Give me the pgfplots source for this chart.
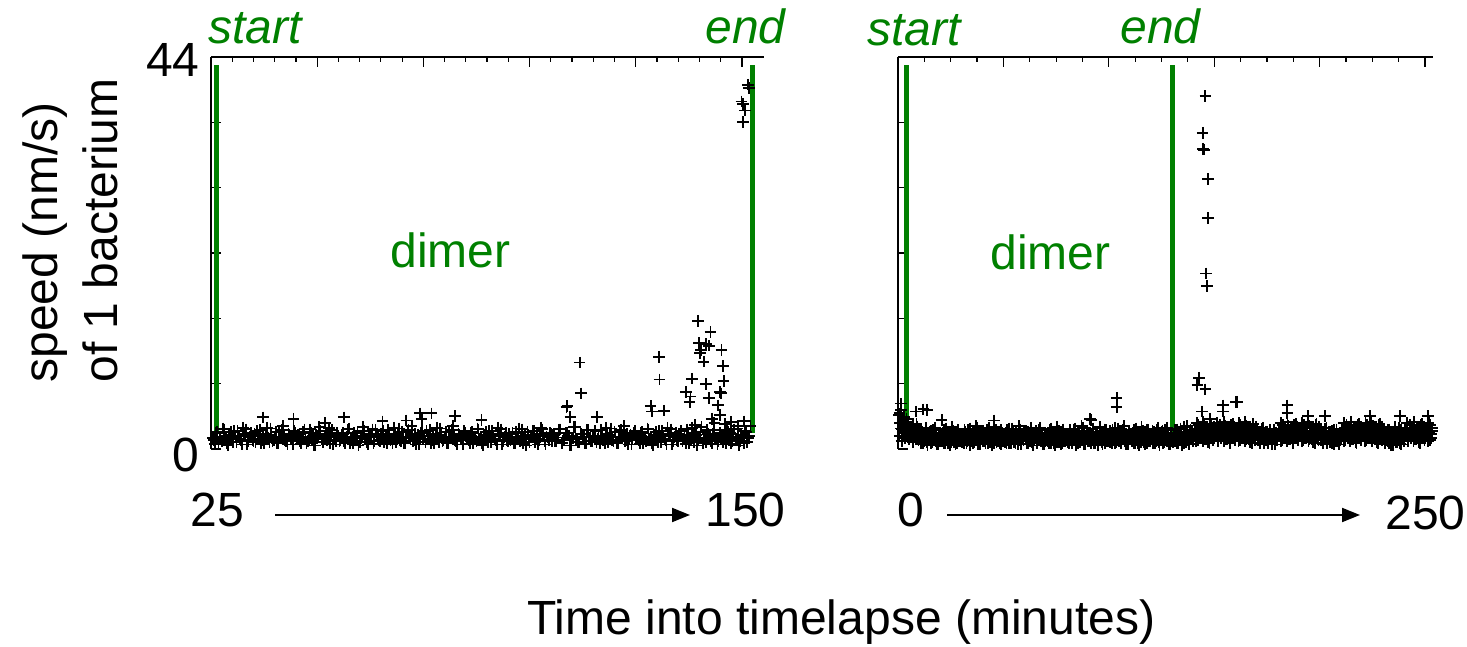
\documentclass[border=0pt]{standalone}
\usepackage{fontspec}
\setmainfont{Liberation Sans}
\usepackage{pgfplots}
\pgfplotsset{compat=1.18}
\usetikzlibrary{arrows.meta}
\definecolor{dgreen}{RGB}{0,128,0}
\pgfplotsset{
  panel/.style={
    scale only axis, height=196pt,
    axis x line*=top, axis y line*=left,
    axis line style={-, line width=1pt},
    tick align=inside,
    major tick length=5pt, minor tick length=2.5pt,
    tick style={black, line width=0.6pt},
    ymin=0, ymax=44,
    ytick={0,7.3333,14.6667,22,29.3333,36.6667,44},
    minor y tick num=3,
    xticklabels={}, yticklabels={},
    clip=false,
  },
  dots/.style={only marks, mark=+, mark size=2.9pt, line width=0.9pt, black},
  gline/.style={dgreen, line width=2.5pt, no marks},
}
\newcommand\bigfont{\fontsize{24}{28}\selectfont}
\begin{document}
\begin{tikzpicture}
\useasboundingbox (0,0) rectangle (733.5pt,323.5pt);
% ---------- left panel ----------
\begin{axis}[panel, at={(105.5pt,99pt)}, anchor=south west, width=276.5pt,
  xmin=25, xmax=155.2, xtick={25,50,...,150}, minor x tick num=4]
\addplot[dots] coordinates {
(25.5,1.2)(26,0.6)(26.5,1.9)(27,1.4)(27.5,0.9)(28,2.2)(28.5,1.1)(29,0.4)(29.5,1.6)(30,1.3)(30.5,2.0)(31,0.8)(31.5,1.5)(32,1.0)(32.5,2.4)(33,1.7)(33.5,0.5)(34,1.3)(34.5,1.8)(35,0.9)
(35.5,0.8)(36,1.5)(36.5,2.1)(37,1.0)(37.5,0.6)(38,1.7)(38.5,1.3)(39,2.3)(39.5,0.9)(40,1.4)(40.5,0.7)(41,1.9)(41.5,1.2)(42,2.6)(42.5,1.0)(43,0.5)(43.5,1.6)(44,1.1)(44.5,2.0)(45,1.4)
(45.5,1.6)(46,0.9)(46.5,1.3)(47,2.2)(47.5,0.7)(48,1.0)(48.5,1.8)(49,1.5)(49.5,0.4)(50,1.2)(50.5,2.5)(51,1.1)(51.5,0.8)(52,1.7)(52.5,1.4)(53,0.6)(53.5,2.1)(54,1.3)(54.5,0.9)(55,1.5)
(55.5,1.0)(56,1.8)(56.5,0.7)(57,1.4)(57.5,2.3)(58,1.2)(58.5,0.6)(59,1.5)(59.5,1.9)(60,0.8)(60.5,1.3)(61,2.0)(61.5,1.1)(62,0.5)(62.5,1.6)(63,2.2)(63.5,0.9)(64,1.4)(64.5,1.0)(65,1.7)
(65.5,2.0)(66,1.1)(66.5,0.6)(67,1.5)(67.5,1.2)(68,2.4)(68.5,0.8)(69,1.6)(69.5,1.0)(70,1.9)(70.5,0.7)(71,1.3)(71.5,2.1)(72,1.4)(72.5,0.9)(73,1.7)(73.5,1.2)(74,0.5)(74.5,1.8)(75,1.1)
(75.5,0.8)(76,1.5)(76.5,2.1)(77,1.0)(77.5,0.6)(78,1.7)(78.5,1.3)(79,2.3)(79.5,0.9)(80,1.4)(80.5,0.7)(81,1.9)(81.5,1.2)(82,2.6)(82.5,1.0)(83,0.5)(83.5,1.6)(84,1.1)(84.5,2.0)(85,1.4)
(85.5,1.2)(86,0.6)(86.5,1.9)(87,1.4)(87.5,0.9)(88,2.2)(88.5,1.1)(89,0.4)(89.5,1.6)(90,1.3)(90.5,2.0)(91,0.8)(91.5,1.5)(92,1.0)(92.5,2.4)(93,1.7)(93.5,0.5)(94,1.3)(94.5,1.8)(95,0.9)
(95.5,1.0)(96,1.8)(96.5,0.7)(97,1.4)(97.5,2.3)(98,1.2)(98.5,0.6)(99,1.5)(99.5,1.9)(100,0.8)(100.5,1.3)(101,2.0)(101.5,1.1)(102,0.5)(102.5,1.6)(103,2.2)(103.5,0.9)(104,1.4)(104.5,1.0)(105,1.7)
(105.5,1.6)(106,0.9)(106.5,1.3)(107,2.2)(107.5,0.7)(108,1.0)(108.5,1.8)(109,1.5)(109.5,0.4)(110,1.2)(110.5,2.5)(111,1.1)(111.5,0.8)(112,1.7)(112.5,1.4)(113,0.6)(113.5,2.1)(114,1.3)(114.5,0.9)(115,1.5)
(115.5,2.0)(116,1.1)(116.5,0.6)(117,1.5)(117.5,1.2)(118,2.4)(118.5,0.8)(119,1.6)(119.5,1.0)(120,1.9)(120.5,0.7)(121,1.3)(121.5,2.1)(122,1.4)(122.5,0.9)(123,1.7)(123.5,1.2)(124,0.5)(124.5,1.8)(125,1.1)
(125.5,1.2)(126,0.6)(126.5,1.9)(127,1.4)(127.5,0.9)(128,2.2)(128.5,1.1)(129,0.4)(129.5,1.6)(130,1.3)(130.5,2.0)(131,0.8)(131.5,1.5)(132,1.0)(132.5,2.4)(133,1.7)(133.5,0.5)(134,1.3)(134.5,1.8)(135,0.9)
(135.5,1.6)(136,0.9)(136.5,1.3)(137,2.2)(137.5,0.7)(138,1.0)(138.5,1.8)(139,1.5)(139.5,0.4)(140,1.2)(140.5,2.5)(141,1.1)(141.5,0.8)(142,1.7)(142.5,1.4)(143,0.6)(143.5,2.1)(144,1.3)(144.5,0.9)(145,1.5)
(145.5,0.8)(146,1.5)(146.5,2.1)(147,1.0)(147.5,0.6)(148,1.7)(148.5,1.3)(149,2.3)(149.5,0.9)(150,1.4)(150.5,0.7)(151,1.9)(151.5,1.2)(152,2.6)
};
\addplot[dots] coordinates {
(25.75,1.0)(26.25,1.8)(26.75,0.7)(27.25,1.4)(27.75,2.3)(28.25,1.2)(28.75,0.6)(29.25,1.5)(29.75,1.9)(30.25,0.8)(30.75,1.3)(31.25,2.0)(31.75,1.1)(32.25,0.5)(32.75,1.6)(33.25,2.2)(33.75,0.9)(34.25,1.4)(34.75,1.0)(35.25,1.7)
(35.75,2.0)(36.25,1.1)(36.75,0.6)(37.25,1.5)(37.75,1.2)(38.25,2.4)(38.75,0.8)(39.25,1.6)(39.75,1.0)(40.25,1.9)(40.75,0.7)(41.25,1.3)(41.75,2.1)(42.25,1.4)(42.75,0.9)(43.25,1.7)(43.75,1.2)(44.25,0.5)(44.75,1.8)(45.25,1.1)
(45.75,1.2)(46.25,0.6)(46.75,1.9)(47.25,1.4)(47.75,0.9)(48.25,2.2)(48.75,1.1)(49.25,0.4)(49.75,1.6)(50.25,1.3)(50.75,2.0)(51.25,0.8)(51.75,1.5)(52.25,1.0)(52.75,2.4)(53.25,1.7)(53.75,0.5)(54.25,1.3)(54.75,1.8)(55.25,0.9)
(55.75,1.6)(56.25,0.9)(56.75,1.3)(57.25,2.2)(57.75,0.7)(58.25,1.0)(58.75,1.8)(59.25,1.5)(59.75,0.4)(60.25,1.2)(60.75,2.5)(61.25,1.1)(61.75,0.8)(62.25,1.7)(62.75,1.4)(63.25,0.6)(63.75,2.1)(64.25,1.3)(64.75,0.9)(65.25,1.5)
(65.75,0.8)(66.25,1.5)(66.75,2.1)(67.25,1.0)(67.75,0.6)(68.25,1.7)(68.75,1.3)(69.25,2.3)(69.75,0.9)(70.25,1.4)(70.75,0.7)(71.25,1.9)(71.75,1.2)(72.25,2.6)(72.75,1.0)(73.25,0.5)(73.75,1.6)(74.25,1.1)(74.75,2.0)(75.25,1.4)
(75.75,2.0)(76.25,1.1)(76.75,0.6)(77.25,1.5)(77.75,1.2)(78.25,2.4)(78.75,0.8)(79.25,1.6)(79.75,1.0)(80.25,1.9)(80.75,0.7)(81.25,1.3)(81.75,2.1)(82.25,1.4)(82.75,0.9)(83.25,1.7)(83.75,1.2)(84.25,0.5)(84.75,1.8)(85.25,1.1)
(85.75,1.0)(86.25,1.8)(86.75,0.7)(87.25,1.4)(87.75,2.3)(88.25,1.2)(88.75,0.6)(89.25,1.5)(89.75,1.9)(90.25,0.8)(90.75,1.3)(91.25,2.0)(91.75,1.1)(92.25,0.5)(92.75,1.6)(93.25,2.2)(93.75,0.9)(94.25,1.4)(94.75,1.0)(95.25,1.7)
(95.75,1.2)(96.25,0.6)(96.75,1.9)(97.25,1.4)(97.75,0.9)(98.25,2.2)(98.75,1.1)(99.25,0.4)(99.75,1.6)(100.25,1.3)(100.75,2.0)(101.25,0.8)(101.75,1.5)(102.25,1.0)(102.75,2.4)(103.25,1.7)(103.75,0.5)(104.25,1.3)(104.75,1.8)(105.25,0.9)
(105.75,1.6)(106.25,0.9)(106.75,1.3)(107.25,2.2)(107.75,0.7)(108.25,1.0)(108.75,1.8)(109.25,1.5)(109.75,0.4)(110.25,1.2)(110.75,2.5)(111.25,1.1)(111.75,0.8)(112.25,1.7)(112.75,1.4)(113.25,0.6)(113.75,2.1)(114.25,1.3)(114.75,0.9)(115.25,1.5)
(115.75,0.8)(116.25,1.5)(116.75,2.1)(117.25,1.0)(117.75,0.6)(118.25,1.7)(118.75,1.3)(119.25,2.3)(119.75,0.9)(120.25,1.4)(120.75,0.7)(121.25,1.9)(121.75,1.2)(122.25,2.6)(122.75,1.0)(123.25,0.5)(123.75,1.6)(124.25,1.1)(124.75,2.0)(125.25,1.4)
(125.75,1.0)(126.25,1.8)(126.75,0.7)(127.25,1.4)(127.75,2.3)(128.25,1.2)(128.75,0.6)(129.25,1.5)(129.75,1.9)(130.25,0.8)(130.75,1.3)(131.25,2.0)(131.75,1.1)(132.25,0.5)(132.75,1.6)(133.25,2.2)(133.75,0.9)(134.25,1.4)(134.75,1.0)(135.25,1.7)
(135.75,2.0)(136.25,1.1)(136.75,0.6)(137.25,1.5)(137.75,1.2)(138.25,2.4)(138.75,0.8)(139.25,1.6)(139.75,1.0)(140.25,1.9)(140.75,0.7)(141.25,1.3)(141.75,2.1)(142.25,1.4)(142.75,0.9)(143.25,1.7)(143.75,1.2)(144.25,0.5)(144.75,1.8)(145.25,1.1)
(145.75,1.2)(146.25,0.6)(146.75,1.9)(147.25,1.4)(147.75,0.9)(148.25,2.2)(148.75,1.1)(149.25,0.4)(149.75,1.6)(150.25,1.3)(150.75,2.0)(151.25,0.8)(151.75,1.5)
};
\addplot[dots] coordinates {
(37.3,3.55)(44.4,3.4)(51.8,2.9)(56.3,3.55)(65.4,3.1)(71,3.2)(74.2,4.0)(76.9,4.0)(74.6,3.4)(82.4,3.7)(88.7,3.25)
(111.8,9.7)(112.1,6.25)(108.7,4.7)(108.9,4.8)(109.6,3.6)(115.9,3.6)
(130.5,10.3)(130.6,7.8)(128.5,4.8)(128.8,4.2)(131.6,4.3)
(139.7,14.4)(142.6,13.1)(139.9,11.9)(141.6,11.8)(142.2,11.6)(140.4,11.1)(140.1,10.8)(145.2,11.1)(141.0,9.8)(145.5,9.3)(138.2,7.9)(141.5,7.3)(145.7,7.6)(136.9,6.4)(137.9,5.9)(137.7,5.3)(142.2,5.7)(144.8,6.4)(145.1,6.25)(144.3,4.9)(144.8,3.8)(142.9,3.4)
(146.0,2.8)(147.5,3.0)(149.0,2.6)(150.5,3.1)(148.2,2.2)(143.5,2.9)(139.0,2.7)
(151.4,40.9)(151.6,40.5)(149.9,39.0)(150.3,38.7)(150.7,38.0)(150.3,36.7)
};
\addplot[gline] coordinates {(26.3,1.8) (26.3,43.1)};
\addplot[gline] coordinates {(152.4,1.8) (152.4,43.1)};
\end{axis}
% ---------- right panel ----------
\begin{axis}[panel, at={(449pt,99pt)}, anchor=south west, width=267.5pt,
  xmin=0, xmax=253.8, xtick={0,50,...,250}, minor x tick num=3]
\addplot[dots] coordinates {
(0.5,3.8)(1,2.9)(1.5,4.4)(2,2.2)(2.5,3.1)(3,2.6)(3.5,1.8)(4,3.4)(4.5,2.0)(5,2.7)(5.5,1.5)(6,2.4)(6.5,1.9)(7,2.8)(7.5,1.3)(8,2.1)(8.5,1.6)(9,2.5)(9.5,1.2)(10,2.0)
(10.5,1.2)(11,0.6)(11.5,1.9)(12,1.4)(12.5,0.9)(13,2.2)(13.5,1.1)(14,0.4)(14.5,1.6)(15,1.3)(15.5,2.0)(16,0.8)(16.5,1.5)(17,1.0)(17.5,2.4)(18,1.7)(18.5,0.5)(19,1.3)(19.5,1.8)(20,0.9)
(20.5,1.6)(21,0.9)(21.5,1.3)(22,2.2)(22.5,0.7)(23,1.0)(23.5,1.8)(24,1.5)(24.5,0.4)(25,1.2)(25.5,2.5)(26,1.1)(26.5,0.8)(27,1.7)(27.5,1.4)(28,0.6)(28.5,2.1)(29,1.3)(29.5,0.9)(30,1.5)
(30.5,0.8)(31,1.5)(31.5,2.1)(32,1.0)(32.5,0.6)(33,1.7)(33.5,1.3)(34,2.3)(34.5,0.9)(35,1.4)(35.5,0.7)(36,1.9)(36.5,1.2)(37,2.6)(37.5,1.0)(38,0.5)(38.5,1.6)(39,1.1)(39.5,2.0)(40,1.4)
(40.5,2.0)(41,1.1)(41.5,0.6)(42,1.5)(42.5,1.2)(43,2.4)(43.5,0.8)(44,1.6)(44.5,1.0)(45,1.9)(45.5,0.7)(46,1.3)(46.5,2.1)(47,1.4)(47.5,0.9)(48,1.7)(48.5,1.2)(49,0.5)(49.5,1.8)(50,1.1)
(50.5,1.0)(51,1.8)(51.5,0.7)(52,1.4)(52.5,2.3)(53,1.2)(53.5,0.6)(54,1.5)(54.5,1.9)(55,0.8)(55.5,1.3)(56,2.0)(56.5,1.1)(57,0.5)(57.5,1.6)(58,2.2)(58.5,0.9)(59,1.4)(59.5,1.0)(60,1.7)
(60.5,1.2)(61,0.6)(61.5,1.9)(62,1.4)(62.5,0.9)(63,2.2)(63.5,1.1)(64,0.4)(64.5,1.6)(65,1.3)(65.5,2.0)(66,0.8)(66.5,1.5)(67,1.0)(67.5,2.4)(68,1.7)(68.5,0.5)(69,1.3)(69.5,1.8)(70,0.9)
(70.5,1.6)(71,0.9)(71.5,1.3)(72,2.2)(72.5,0.7)(73,1.0)(73.5,1.8)(74,1.5)(74.5,0.4)(75,1.2)(75.5,2.5)(76,1.1)(76.5,0.8)(77,1.7)(77.5,1.4)(78,0.6)(78.5,2.1)(79,1.3)(79.5,0.9)(80,1.5)
(80.5,0.8)(81,1.5)(81.5,2.1)(82,1.0)(82.5,0.6)(83,1.7)(83.5,1.3)(84,2.3)(84.5,0.9)(85,1.4)(85.5,0.7)(86,1.9)(86.5,1.2)(87,2.6)(87.5,1.0)(88,0.5)(88.5,1.6)(89,1.1)(89.5,2.0)(90,1.4)
(90.5,1.0)(91,1.8)(91.5,0.7)(92,1.4)(92.5,2.3)(93,1.2)(93.5,0.6)(94,1.5)(94.5,1.9)(95,0.8)(95.5,1.3)(96,2.0)(96.5,1.1)(97,0.5)(97.5,1.6)(98,2.2)(98.5,0.9)(99,1.4)(99.5,1.0)(100,1.7)
(100.5,2.0)(101,1.1)(101.5,0.6)(102,1.5)(102.5,1.2)(103,2.4)(103.5,0.8)(104,1.6)(104.5,1.0)(105,1.9)(105.5,0.7)(106,1.3)(106.5,2.1)(107,1.4)(107.5,0.9)(108,1.7)(108.5,1.2)(109,0.5)(109.5,1.8)(110,1.1)
(110.5,1.6)(111,0.9)(111.5,1.3)(112,2.2)(112.5,0.7)(113,1.0)(113.5,1.8)(114,1.5)(114.5,0.4)(115,1.2)(115.5,2.5)(116,1.1)(116.5,0.8)(117,1.7)(117.5,1.4)(118,0.6)(118.5,2.1)(119,1.3)(119.5,0.9)(120,1.5)
(120.5,1.2)(121,0.6)(121.5,1.9)(122,1.4)(122.5,0.9)(123,2.2)(123.5,1.1)(124,0.4)(124.5,1.6)(125,1.3)(125.5,2.0)(126,0.8)(126.5,1.5)(127,1.0)(127.5,2.4)(128,1.7)(128.5,0.5)(129,1.3)(129.5,1.8)(130,0.9)
(130.5,0.8)(131,1.5)(131.5,2.1)(132,1.0)(132.5,0.6)(133,1.7)(133.5,1.3)(134,2.3)(134.5,0.9)(135,1.4)(135.5,0.7)(136,1.9)(136.5,1.2)(137,2.6)(137.5,1.0)(138,0.5)(138.5,1.6)(139,1.1)(139.5,2.0)(140,1.4)
(140.5,1.5)(141,2.3)(141.5,0.9)(142,1.8)(142.5,2.7)(143,1.2)(143.5,2.0)(144,1.6)(144.5,3.0)(145,1.1)(145.5,1.9)(146,2.5)(146.5,1.3)(147,0.8)(147.5,2.2)(148,1.7)(148.5,2.8)(149,1.4)(149.5,1.0)(150,2.1)
(150.5,2.2)(151,1.4)(151.5,2.9)(152,1.0)(152.5,1.7)(153,2.4)(153.5,1.2)(154,2.0)(154.5,0.9)(155,2.6)(155.5,1.5)(156,1.1)(156.5,2.3)(157,1.8)(157.5,0.7)(158,2.7)(158.5,1.3)(159,1.9)(159.5,2.5)(160,1.6)
(160.5,1.5)(161,2.3)(161.5,0.9)(162,1.8)(162.5,2.7)(163,1.2)(163.5,2.0)(164,1.6)(164.5,3.0)(165,1.1)(165.5,1.9)(166,2.5)(166.5,1.3)(167,0.8)(167.5,2.2)(168,1.7)(168.5,2.8)(169,1.4)(169.5,1.0)(170,2.1)
(170.5,2.0)(171,1.1)(171.5,0.6)(172,1.5)(172.5,1.2)(173,2.4)(173.5,0.8)(174,1.6)(174.5,1.0)(175,1.9)(175.5,0.7)(176,1.3)(176.5,2.1)(177,1.4)(177.5,0.9)(178,1.7)(178.5,1.2)(179,0.5)(179.5,1.8)(180,1.1)
(180.5,2.2)(181,1.4)(181.5,2.9)(182,1.0)(182.5,1.7)(183,2.4)(183.5,1.2)(184,2.0)(184.5,0.9)(185,2.6)(185.5,1.5)(186,1.1)(186.5,2.3)(187,1.8)(187.5,0.7)(188,2.7)(188.5,1.3)(189,1.9)(189.5,2.5)(190,1.6)
(190.5,1.5)(191,2.3)(191.5,0.9)(192,1.8)(192.5,2.7)(193,1.2)(193.5,2.0)(194,1.6)(194.5,3.0)(195,1.1)(195.5,1.9)(196,2.5)(196.5,1.3)(197,0.8)(197.5,2.2)(198,1.7)(198.5,2.8)(199,1.4)(199.5,1.0)(200,2.1)
(200.5,1.0)(201,1.8)(201.5,0.7)(202,1.4)(202.5,2.3)(203,1.2)(203.5,0.6)(204,1.5)(204.5,1.9)(205,0.8)(205.5,1.3)(206,2.0)(206.5,1.1)(207,0.5)(207.5,1.6)(208,2.2)(208.5,0.9)(209,1.4)(209.5,1.0)(210,1.7)
(210.5,2.2)(211,1.4)(211.5,2.9)(212,1.0)(212.5,1.7)(213,2.4)(213.5,1.2)(214,2.0)(214.5,0.9)(215,2.6)(215.5,1.5)(216,1.1)(216.5,2.3)(217,1.8)(217.5,0.7)(218,2.7)(218.5,1.3)(219,1.9)(219.5,2.5)(220,1.6)
(220.5,1.5)(221,2.3)(221.5,0.9)(222,1.8)(222.5,2.7)(223,1.2)(223.5,2.0)(224,1.6)(224.5,3.0)(225,1.1)(225.5,1.9)(226,2.5)(226.5,1.3)(227,0.8)(227.5,2.2)(228,1.7)(228.5,2.8)(229,1.4)(229.5,1.0)(230,2.1)
(230.5,1.2)(231,0.6)(231.5,1.9)(232,1.4)(232.5,0.9)(233,2.2)(233.5,1.1)(234,0.4)(234.5,1.6)(235,1.3)(235.5,2.0)(236,0.8)(236.5,1.5)(237,1.0)(237.5,2.4)(238,1.7)(238.5,0.5)(239,1.3)(239.5,1.8)(240,0.9)
(240.5,2.2)(241,1.4)(241.5,2.9)(242,1.0)(242.5,1.7)(243,2.4)(243.5,1.2)(244,2.0)(244.5,0.9)(245,2.6)(245.5,1.5)(246,1.1)(246.5,2.3)(247,1.8)(247.5,0.7)(248,2.7)(248.5,1.3)(249,1.9)(249.5,2.5)(250,1.6)
(250.5,1.5)(251,2.3)(251.5,0.9)(252,1.8)(252.5,2.7)(253,1.2)(253.5,2.0)
};
\addplot[dots] coordinates {
(0.75,1.5)(1.25,2.3)(1.75,0.9)(2.25,1.8)(2.75,2.7)(3.25,1.2)(3.75,2.0)(4.25,1.6)(4.75,3.0)(5.25,1.1)(5.75,1.9)(6.25,2.5)(6.75,1.3)(7.25,0.8)(7.75,2.2)(8.25,1.7)(8.75,2.8)(9.25,1.4)(9.75,1.0)(10.25,2.1)
(10.75,2.0)(11.25,1.1)(11.75,0.6)(12.25,1.5)(12.75,1.2)(13.25,2.4)(13.75,0.8)(14.25,1.6)(14.75,1.0)(15.25,1.9)(15.75,0.7)(16.25,1.3)(16.75,2.1)(17.25,1.4)(17.75,0.9)(18.25,1.7)(18.75,1.2)(19.25,0.5)(19.75,1.8)(20.25,1.1)
(20.75,1.0)(21.25,1.8)(21.75,0.7)(22.25,1.4)(22.75,2.3)(23.25,1.2)(23.75,0.6)(24.25,1.5)(24.75,1.9)(25.25,0.8)(25.75,1.3)(26.25,2.0)(26.75,1.1)(27.25,0.5)(27.75,1.6)(28.25,2.2)(28.75,0.9)(29.25,1.4)(29.75,1.0)(30.25,1.7)
(30.75,1.2)(31.25,0.6)(31.75,1.9)(32.25,1.4)(32.75,0.9)(33.25,2.2)(33.75,1.1)(34.25,0.4)(34.75,1.6)(35.25,1.3)(35.75,2.0)(36.25,0.8)(36.75,1.5)(37.25,1.0)(37.75,2.4)(38.25,1.7)(38.75,0.5)(39.25,1.3)(39.75,1.8)(40.25,0.9)
(40.75,1.6)(41.25,0.9)(41.75,1.3)(42.25,2.2)(42.75,0.7)(43.25,1.0)(43.75,1.8)(44.25,1.5)(44.75,0.4)(45.25,1.2)(45.75,2.5)(46.25,1.1)(46.75,0.8)(47.25,1.7)(47.75,1.4)(48.25,0.6)(48.75,2.1)(49.25,1.3)(49.75,0.9)(50.25,1.5)
(50.75,0.8)(51.25,1.5)(51.75,2.1)(52.25,1.0)(52.75,0.6)(53.25,1.7)(53.75,1.3)(54.25,2.3)(54.75,0.9)(55.25,1.4)(55.75,0.7)(56.25,1.9)(56.75,1.2)(57.25,2.6)(57.75,1.0)(58.25,0.5)(58.75,1.6)(59.25,1.1)(59.75,2.0)(60.25,1.4)
(60.75,2.0)(61.25,1.1)(61.75,0.6)(62.25,1.5)(62.75,1.2)(63.25,2.4)(63.75,0.8)(64.25,1.6)(64.75,1.0)(65.25,1.9)(65.75,0.7)(66.25,1.3)(66.75,2.1)(67.25,1.4)(67.75,0.9)(68.25,1.7)(68.75,1.2)(69.25,0.5)(69.75,1.8)(70.25,1.1)
(70.75,1.0)(71.25,1.8)(71.75,0.7)(72.25,1.4)(72.75,2.3)(73.25,1.2)(73.75,0.6)(74.25,1.5)(74.75,1.9)(75.25,0.8)(75.75,1.3)(76.25,2.0)(76.75,1.1)(77.25,0.5)(77.75,1.6)(78.25,2.2)(78.75,0.9)(79.25,1.4)(79.75,1.0)(80.25,1.7)
(80.75,1.2)(81.25,0.6)(81.75,1.9)(82.25,1.4)(82.75,0.9)(83.25,2.2)(83.75,1.1)(84.25,0.4)(84.75,1.6)(85.25,1.3)(85.75,2.0)(86.25,0.8)(86.75,1.5)(87.25,1.0)(87.75,2.4)(88.25,1.7)(88.75,0.5)(89.25,1.3)(89.75,1.8)(90.25,0.9)
(90.75,1.6)(91.25,0.9)(91.75,1.3)(92.25,2.2)(92.75,0.7)(93.25,1.0)(93.75,1.8)(94.25,1.5)(94.75,0.4)(95.25,1.2)(95.75,2.5)(96.25,1.1)(96.75,0.8)(97.25,1.7)(97.75,1.4)(98.25,0.6)(98.75,2.1)(99.25,1.3)(99.75,0.9)(100.25,1.5)
(100.75,0.8)(101.25,1.5)(101.75,2.1)(102.25,1.0)(102.75,0.6)(103.25,1.7)(103.75,1.3)(104.25,2.3)(104.75,0.9)(105.25,1.4)(105.75,0.7)(106.25,1.9)(106.75,1.2)(107.25,2.6)(107.75,1.0)(108.25,0.5)(108.75,1.6)(109.25,1.1)(109.75,2.0)(110.25,1.4)
(110.75,1.0)(111.25,1.8)(111.75,0.7)(112.25,1.4)(112.75,2.3)(113.25,1.2)(113.75,0.6)(114.25,1.5)(114.75,1.9)(115.25,0.8)(115.75,1.3)(116.25,2.0)(116.75,1.1)(117.25,0.5)(117.75,1.6)(118.25,2.2)(118.75,0.9)(119.25,1.4)(119.75,1.0)(120.25,1.7)
(120.75,2.0)(121.25,1.1)(121.75,0.6)(122.25,1.5)(122.75,1.2)(123.25,2.4)(123.75,0.8)(124.25,1.6)(124.75,1.0)(125.25,1.9)(125.75,0.7)(126.25,1.3)(126.75,2.1)(127.25,1.4)(127.75,0.9)(128.25,1.7)(128.75,1.2)(129.25,0.5)(129.75,1.8)(130.25,1.1)
(130.75,1.6)(131.25,0.9)(131.75,1.3)(132.25,2.2)(132.75,0.7)(133.25,1.0)(133.75,1.8)(134.25,1.5)(134.75,0.4)(135.25,1.2)(135.75,2.5)(136.25,1.1)(136.75,0.8)(137.25,1.7)(137.75,1.4)(138.25,0.6)(138.75,2.1)(139.25,1.3)(139.75,0.9)(140.25,1.5)
(140.75,2.2)(141.25,1.4)(141.75,2.9)(142.25,1.0)(142.75,1.7)(143.25,2.4)(143.75,1.2)(144.25,2.0)(144.75,0.9)(145.25,2.6)(145.75,1.5)(146.25,1.1)(146.75,2.3)(147.25,1.8)(147.75,0.7)(148.25,2.7)(148.75,1.3)(149.25,1.9)(149.75,2.5)(150.25,1.6)
(150.75,1.5)(151.25,2.3)(151.75,0.9)(152.25,1.8)(152.75,2.7)(153.25,1.2)(153.75,2.0)(154.25,1.6)(154.75,3.0)(155.25,1.1)(155.75,1.9)(156.25,2.5)(156.75,1.3)(157.25,0.8)(157.75,2.2)(158.25,1.7)(158.75,2.8)(159.25,1.4)(159.75,1.0)(160.25,2.1)
(160.75,2.2)(161.25,1.4)(161.75,2.9)(162.25,1.0)(162.75,1.7)(163.25,2.4)(163.75,1.2)(164.25,2.0)(164.75,0.9)(165.25,2.6)(165.75,1.5)(166.25,1.1)(166.75,2.3)(167.25,1.8)(167.75,0.7)(168.25,2.7)(168.75,1.3)(169.25,1.9)(169.75,2.5)(170.25,1.6)
(170.75,1.0)(171.25,1.8)(171.75,0.7)(172.25,1.4)(172.75,2.3)(173.25,1.2)(173.75,0.6)(174.25,1.5)(174.75,1.9)(175.25,0.8)(175.75,1.3)(176.25,2.0)(176.75,1.1)(177.25,0.5)(177.75,1.6)(178.25,2.2)(178.75,0.9)(179.25,1.4)(179.75,1.0)(180.25,1.7)
(180.75,1.5)(181.25,2.3)(181.75,0.9)(182.25,1.8)(182.75,2.7)(183.25,1.2)(183.75,2.0)(184.25,1.6)(184.75,3.0)(185.25,1.1)(185.75,1.9)(186.25,2.5)(186.75,1.3)(187.25,0.8)(187.75,2.2)(188.25,1.7)(188.75,2.8)(189.25,1.4)(189.75,1.0)(190.25,2.1)
(190.75,2.2)(191.25,1.4)(191.75,2.9)(192.25,1.0)(192.75,1.7)(193.25,2.4)(193.75,1.2)(194.25,2.0)(194.75,0.9)(195.25,2.6)(195.75,1.5)(196.25,1.1)(196.75,2.3)(197.25,1.8)(197.75,0.7)(198.25,2.7)(198.75,1.3)(199.25,1.9)(199.75,2.5)(200.25,1.6)
(200.75,2.0)(201.25,1.1)(201.75,0.6)(202.25,1.5)(202.75,1.2)(203.25,2.4)(203.75,0.8)(204.25,1.6)(204.75,1.0)(205.25,1.9)(205.75,0.7)(206.25,1.3)(206.75,2.1)(207.25,1.4)(207.75,0.9)(208.25,1.7)(208.75,1.2)(209.25,0.5)(209.75,1.8)(210.25,1.1)
(210.75,1.5)(211.25,2.3)(211.75,0.9)(212.25,1.8)(212.75,2.7)(213.25,1.2)(213.75,2.0)(214.25,1.6)(214.75,3.0)(215.25,1.1)(215.75,1.9)(216.25,2.5)(216.75,1.3)(217.25,0.8)(217.75,2.2)(218.25,1.7)(218.75,2.8)(219.25,1.4)(219.75,1.0)(220.25,2.1)
(220.75,2.2)(221.25,1.4)(221.75,2.9)(222.25,1.0)(222.75,1.7)(223.25,2.4)(223.75,1.2)(224.25,2.0)(224.75,0.9)(225.25,2.6)(225.75,1.5)(226.25,1.1)(226.75,2.3)(227.25,1.8)(227.75,0.7)(228.25,2.7)(228.75,1.3)(229.25,1.9)(229.75,2.5)(230.25,1.6)
(230.75,1.6)(231.25,0.9)(231.75,1.3)(232.25,2.2)(232.75,0.7)(233.25,1.0)(233.75,1.8)(234.25,1.5)(234.75,0.4)(235.25,1.2)(235.75,2.5)(236.25,1.1)(236.75,0.8)(237.25,1.7)(237.75,1.4)(238.25,0.6)(238.75,2.1)(239.25,1.3)(239.75,0.9)(240.25,1.5)
(240.75,1.5)(241.25,2.3)(241.75,0.9)(242.25,1.8)(242.75,2.7)(243.25,1.2)(243.75,2.0)(244.25,1.6)(244.75,3.0)(245.25,1.1)(245.75,1.9)(246.25,2.5)(246.75,1.3)(247.25,0.8)(247.75,2.2)(248.25,1.7)(248.75,2.8)(249.25,1.4)(249.75,1.0)(250.25,2.1)
(250.75,2.2)(251.25,1.4)(251.75,2.9)(252.25,1.0)(252.75,1.7)(253.25,2.4)
};
\addplot[dots] coordinates {
(0.8,4.0)(1.3,5.1)(3.0,3.6)(8.5,4.2)(12,4.45)(13.9,4.4)(20.7,3.25)(45.5,3.2)(91.1,3.4)(91.7,3.25)(103.7,5.7)(103.7,4.7)
(145.8,39.6)(144.5,35.5)(144.8,33.7)(145.2,33.6)(147.1,30.3)(147.1,25.9)(146.1,19.7)(146.7,18.3)
(142.7,8.0)(142.0,7.2)(145.8,6.7)(154.3,4.9)(154.3,4.2)(160.3,5.3)(160.8,5.3)(144.2,4.2)(148.0,3.4)
(184.7,4.9)(184.7,4.0)(194.5,3.7)(202.6,3.7)(224,3.7)(238,3.7)(251.4,3.7)
};
\addplot[gline] coordinates {(3.8,1.8) (3.8,43.1)};
\addplot[gline] coordinates {(130,1.8) (130,43.1)};
\end{axis}
% ---------- texts ----------
\begin{scope}[every node/.style={inner sep=0pt, font=\bigfont}]
\node[anchor=east] at (100pt,293.5pt) {44};
\node[anchor=east] at (100pt,96pt) {0};
\node[anchor=west, rotate=90] at (22.5pt,132pt) {speed (nm/s)};
\node[anchor=west, rotate=90] at (50pt,132pt) {of 1 bacterium};
\node[anchor=base west, text=dgreen, font=\bigfont\itshape] at (104pt,301.5pt) {start};
\node[anchor=base west, text=dgreen, font=\bigfont\itshape] at (352.5pt,301.5pt) {end};
\node[anchor=base west, text=dgreen, font=\bigfont\itshape] at (433.5pt,300.5pt) {start};
\node[anchor=base west, text=dgreen, font=\bigfont\itshape] at (560pt,301.5pt) {end};
\node[anchor=base west, text=dgreen] at (195pt,189.5pt) {dimer};
\node[anchor=base west, text=dgreen] at (495pt,188.5pt) {dimer};
\node[anchor=base west] at (95pt,60pt) {25};
\node[anchor=base west] at (352.5pt,60pt) {150};
\node[anchor=base west] at (448.5pt,60pt) {0};
\node[anchor=base west] at (692.5pt,58.5pt) {250};
\node[anchor=base west] at (263.5pt,6pt) {Time into timelapse (minutes)};
\end{scope}
\draw[line width=1pt, -{Triangle[length=9pt,width=7pt]}] (137.5pt,66pt) -- (345pt,66pt);
\draw[line width=1pt, -{Triangle[length=9pt,width=7pt]}] (473.5pt,66pt) -- (680pt,66pt);
\end{tikzpicture}
\end{document}
